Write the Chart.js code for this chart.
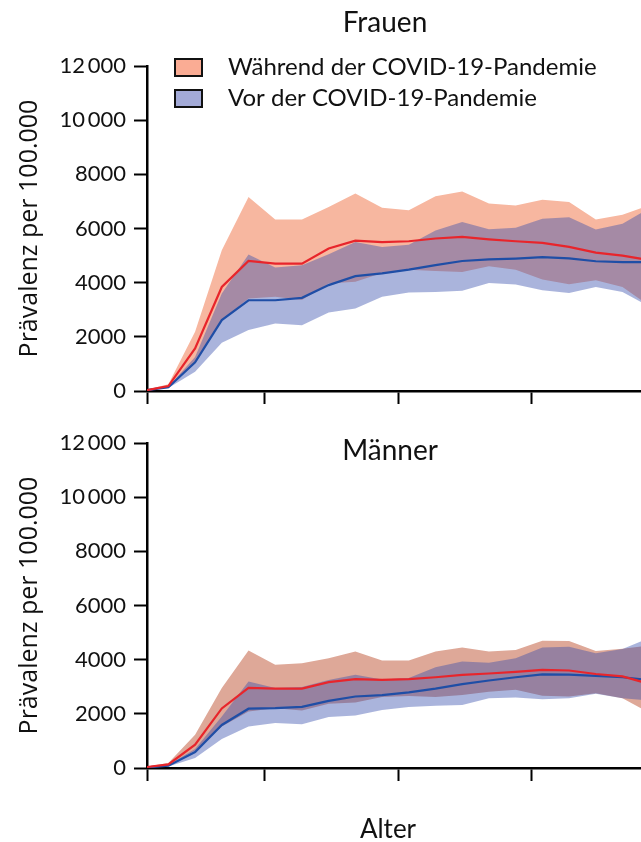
<!DOCTYPE html>
<html lang="de">
<head>
<meta charset="utf-8">
<title>Prävalenz nach Alter</title>
<script src="https://cdn.jsdelivr.net/npm/chart.js@4.4.1/dist/chart.umd.min.js"></script>
<style>
  html, body { margin: 0; padding: 0; background: #fff; overflow: hidden; }
  #wrap { position: relative; width: 641px; height: 842px; overflow: hidden; }
  canvas { position: absolute; left: 0; }
  #frauenChart { top: 0; }
  #maennerChart { top: 420px; }
</style>
</head>
<body>
<div id="wrap">
  <canvas id="frauenChart" width="770" height="420"></canvas>
  <canvas id="maennerChart" width="770" height="422"></canvas>
</div>
<script>
// Altersstufen (x) und Achsenmarken
const alter = [0, 4, 9, 14, 19, 24, 29, 34, 39, 44, 49, 54, 59, 64, 69, 74, 79, 84, 89, 94];
const xTicks = [0, 22, 47, 72, 97];
const yTicks = [0, 2000, 4000, 6000, 8000, 10000, 12000];

// Frauen: Mittelwert und Band, waehrend / vor der Pandemie
const frauenWaehrend      = [30, 180, 1570, 3840, 4800, 4700, 4700, 5260, 5550, 5500, 5530, 5630, 5690, 5600, 5530, 5470, 5320, 5110, 5000, 4830];
const frauenWaehrendOben  = [60, 250, 2190, 5200, 7160, 6330, 6330, 6790, 7290, 6770, 6670, 7190, 7370, 6920, 6850, 7060, 6980, 6330, 6510, 6860];
const frauenWaehrendUnten = [10, 150, 1020, 2620, 3420, 3480, 3360, 3970, 4030, 4360, 4480, 4430, 4390, 4610, 4480, 4120, 3940, 4090, 3840, 3150];
const frauenVor           = [30, 140, 1060, 2620, 3350, 3350, 3440, 3910, 4240, 4340, 4480, 4650, 4800, 4860, 4890, 4940, 4900, 4790, 4760, 4760];
const frauenVorOben       = [50, 160, 1260, 3600, 5040, 4560, 4640, 5050, 5500, 5320, 5400, 5930, 6240, 5970, 6030, 6360, 6420, 5960, 6180, 6750];
const frauenVorUnten      = [10, 110, 710, 1780, 2250, 2490, 2430, 2900, 3050, 3480, 3640, 3660, 3700, 3990, 3930, 3720, 3620, 3840, 3660, 3120];

// Männer
const maennerWaehrend      = [37, 133, 860, 2200, 2960, 2930, 2930, 3170, 3280, 3255, 3280, 3350, 3440, 3490, 3550, 3620, 3600, 3470, 3380, 3105];
const maennerWaehrendOben  = [60, 185, 1230, 2950, 4340, 3810, 3870, 4050, 4300, 3970, 3970, 4300, 4450, 4300, 4360, 4700, 4690, 4320, 4400, 4525];
const maennerWaehrendUnten = [20, 110, 650, 1530, 2090, 2210, 2120, 2370, 2420, 2620, 2660, 2620, 2700, 2820, 2890, 2670, 2640, 2760, 2580, 2040];
const maennerVor           = [20, 85, 590, 1590, 2190, 2210, 2260, 2480, 2640, 2690, 2790, 2930, 3100, 3230, 3350, 3460, 3450, 3400, 3350, 3245];
const maennerVorOben       = [37, 110, 700, 1900, 3190, 2950, 2990, 3250, 3440, 3270, 3320, 3720, 3930, 3890, 4050, 4450, 4480, 4240, 4390, 4800];
const maennerVorUnten      = [10, 60, 370, 1070, 1530, 1660, 1620, 1880, 1940, 2140, 2250, 2300, 2330, 2580, 2600, 2540, 2580, 2740, 2580, 2490];

const LABEL_WAEHREND = 'Während der COVID-19-Pandemie';
const LABEL_VOR = 'Vor der COVID-19-Pandemie';

const textColor = '#111';

function points(values) {
    return values.map((v, i) => ({ x: alter[i], y: v }));
}

function formatTick(v) {
    // 10 000 und 12 000 mit schmalem Leerzeichen, sonst ohne Trenner
    return v >= 10000 ? String(v).replace(/(\d)(\d{3})$/, '$1\u2009$2') : String(v);
}

// Titel, Legende und x-Achsentitel frei platziert zeichnen
const panelText = {
    id: 'panelText',
    afterDraw(chart, args, opts) {
        const ctx = chart.ctx;
        ctx.save();
        ctx.fillStyle = textColor;
        ctx.textBaseline = 'middle';
        if (opts.title) {
            ctx.font = '28px Lato';
            ctx.textAlign = 'center';
            ctx.fillText(opts.title, opts.titleX, opts.titleY);
        }
        if (opts.legend) {
            const items = chart.data.datasets.filter(ds => ds.legendColor);
            items.forEach((ds, i) => {
                const y = 67 + i * 31;
                ctx.fillStyle = ds.legendColor;
                ctx.fillRect(175, y - 8, 27, 17);
                ctx.strokeStyle = '#111';
                ctx.lineWidth = 2;
                ctx.strokeRect(175, y - 8, 27, 17);
                ctx.fillStyle = textColor;
                ctx.font = '24px Lato';
                ctx.textAlign = 'left';
                ctx.fillText(ds.label, 228, y);
            });
        }
        if (opts.xTitle) {
            ctx.fillStyle = textColor;
            ctx.font = '26px Lato';
            ctx.textAlign = 'center';
            ctx.fillText(opts.xTitle, opts.xTitleX, opts.xTitleY);
        }
        ctx.restore();
    }
};

function bandDatasets(lower, upper, fillColor, order, label, legendColor) {
    return [
        { data: points(lower), borderWidth: 0, pointRadius: 0, fill: false, order: order, tension: 0 },
        { label: label, legendColor: legendColor, data: points(upper), borderWidth: 0, pointRadius: 0,
          fill: '-1', backgroundColor: fillColor, order: order, tension: 0 }
    ];
}

function createPanel(canvasId, cfg) {
    const ctx = document.getElementById(canvasId).getContext('2d');
    return new Chart(ctx, {
        type: 'line',
        data: {
            datasets: [
                ...bandDatasets(cfg.waehrendUnten, cfg.waehrendOben, cfg.salmon, 3, LABEL_WAEHREND, 'rgb(250,172,148)'),
                ...bandDatasets(cfg.vorUnten, cfg.vorOben, 'rgba(52,76,172,0.42)', 2, LABEL_VOR, 'rgb(163,170,215)'),
                { data: points(cfg.vor), borderColor: '#1f4ea6', borderWidth: 2.2, pointRadius: 0, fill: false, order: 1 },
                { data: points(cfg.waehrend), borderColor: '#e8252b', borderWidth: 2.2, pointRadius: 0, fill: false, order: 0 }
            ]
        },
        options: {
            responsive: false,
            animation: false,
            events: [],
            layout: { padding: { top: cfg.padTop, right: 62, bottom: 0, left: 0 } },
            plugins: {
                legend: { display: false },
                tooltip: { enabled: false },
                panelText: cfg.text
            },
            scales: {
                x: {
                    type: 'linear',
                    min: 0,
                    max: 105,
                    afterBuildTicks: s => { s.ticks = xTicks.map(v => ({ value: v })); },
                    afterFit: s => { s.height = cfg.xHeight; },
                    border: { color: '#000', width: 2.5 },
                    grid: { drawOnChartArea: false, tickLength: 13, tickWidth: 2, tickColor: '#000' },
                    ticks: { display: false }
                },
                y: {
                    min: 0,
                    max: 12000,
                    afterBuildTicks: s => { s.ticks = yTicks.map(v => ({ value: v })); },
                    afterFit: s => { s.width = 147; },
                    border: { color: '#000', width: 2.5 },
                    grid: { drawOnChartArea: false, tickLength: 13, tickWidth: 2, tickColor: '#000' },
                    ticks: { color: textColor, padding: 8, font: { family: 'Lato', size: 22 }, callback: v => formatTick(v) },
                    title: {
                        display: true,
                        text: 'Prävalenz per 100.000',
                        color: textColor,
                        font: { family: 'Open Sans', size: 25 },
                        padding: { top: 15, bottom: 0 }
                    }
                }
            }
        },
        plugins: [panelText]
    });
}

createPanel('frauenChart', {
    waehrend: frauenWaehrend, waehrendOben: frauenWaehrendOben, waehrendUnten: frauenWaehrendUnten,
    vor: frauenVor, vorOben: frauenVorOben, vorUnten: frauenVorUnten,
    salmon: 'rgb(247,183,160)',
    padTop: 66, xHeight: 29,
    text: { title: 'Frauen', titleX: 385, titleY: 23, legend: true }
});

createPanel('maennerChart', {
    waehrend: maennerWaehrend, waehrendOben: maennerWaehrendOben, waehrendUnten: maennerWaehrendUnten,
    vor: maennerVor, vorOben: maennerVorOben, vorUnten: maennerVorUnten,
    salmon: 'rgb(222,168,152)',
    padTop: 23, xHeight: 74,
    text: { title: 'Männer', titleX: 390, titleY: 31, xTitle: 'Alter', xTitleX: 388, xTitleY: 410 }
});
</script>
</body>
</html>
